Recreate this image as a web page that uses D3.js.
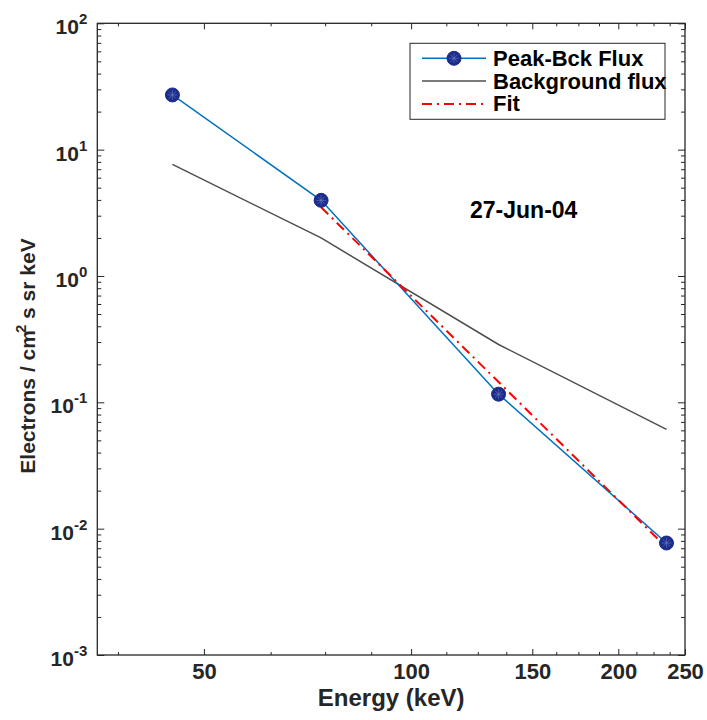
<!DOCTYPE html>
<html>
<head>
<meta charset="utf-8">
<script src="https://cdn.jsdelivr.net/npm/d3@7"></script>
<style>
body { margin: 0; background: #fff; }
text { font-family: "Liberation Sans", Arial, Helvetica, sans-serif; font-weight: bold; }
</style>
</head>
<body>
<div id="divChart"></div>
<script>
// values
var energy = [45, 74, 134, 235];
var peakFlux = [27.1, 3.97, 0.116, 0.0077];
var bckFlux = [7.65, 2.0, 0.287, 0.061];
var fitEnergy = [74, 235];
var fitFlux = [3.5, 0.0071];
var xTickValues = [50, 100, 150, 200, 250];
var xMinorTicks = [37.5, 62.5, 75, 87.5, 112.5, 125, 137.5, 162.5, 175, 187.5, 212.5, 225, 237.5];
var yTickExps = [-3, -2, -1, 0, 1, 2];
var legendLabels = ["Peak-Bck Flux", "Background flux", "Fit"];
var dateLabel = "27-Jun-04";

var margin = {
        top: 23.3,
        right: 22,
        bottom: 65,
        left: 97.3
    },
    width = 707 - margin.left - margin.right,
    height = 720 - margin.top - margin.bottom;

var axisColor = "#262626";

var svg = d3.select("#divChart").append("svg")
    .attr("width", 707)
    .attr("height", 720);

var g = svg.append("g")
    .attr("transform", "translate(" + margin.left + "," + margin.top + ")");

var x = d3.scaleLog().domain([35, 250]).range([0, width]);
var y = d3.scaleLog().domain([1e-3, 1e2]).range([height, 0]);

var yMinorTicks = [];
yTickExps.forEach(function(e) {
    if (e == 2) return;
    for (var k = 2; k < 10; k++) yMinorTicks.push(k * Math.pow(10, e));
});
var yMajorTicks = yTickExps.map(function(e) { return Math.pow(10, e); });

// ticks on all four sides, pointing inwards
var drawAxis = function(axis, transform) {
    var a = g.append("g")
        .attr("transform", transform)
        .call(axis);
    a.select(".domain").remove();
    a.selectAll("line").attr("stroke", axisColor).attr("stroke-width", 1);
    return a;
};

var xAxis = drawAxis(d3.axisBottom(x).tickValues(xTickValues).tickFormat(d3.format("d"))
    .tickSize(-6).tickPadding(8), "translate(0," + height + ")");
xAxis.selectAll("text")
    .attr("fill", axisColor)
    .style("font-size", "22px");
drawAxis(d3.axisBottom(x).tickValues(xMinorTicks).tickFormat("").tickSize(-3), "translate(0," + height + ")");
drawAxis(d3.axisTop(x).tickValues(xTickValues).tickFormat("").tickSize(-6), "translate(0,0)");
drawAxis(d3.axisTop(x).tickValues(xMinorTicks).tickFormat("").tickSize(-3), "translate(0,0)");

drawAxis(d3.axisLeft(y).tickValues(yMajorTicks).tickFormat("").tickSize(-7), "translate(0,0)");
drawAxis(d3.axisLeft(y).tickValues(yMinorTicks).tickFormat("").tickSize(-4), "translate(0,0)");
drawAxis(d3.axisRight(y).tickValues(yMajorTicks).tickFormat("").tickSize(-7), "translate(" + width + ",0)");
drawAxis(d3.axisRight(y).tickValues(yMinorTicks).tickFormat("").tickSize(-4), "translate(" + width + ",0)");

// y tick labels 10^n
var yLab = g.append("g").selectAll("text")
    .data(yTickExps)
    .enter().append("text")
    .attr("x", -10)
    .attr("y", function(d) { return y(Math.pow(10, d)) + 11; })
    .attr("text-anchor", "end")
    .attr("fill", axisColor)
    .style("font-size", "21px");
yLab.append("tspan").text("10");
yLab.append("tspan")
    .attr("dy", -10)
    .style("font-size", "15px")
    .text(function(d) { return d; });

// box
g.append("rect")
    .attr("width", width)
    .attr("height", height)
    .attr("fill", "none")
    .attr("stroke", axisColor)
    .attr("stroke-width", 1.3);

// axis titles
g.append("text")
    .attr("x", width / 2)
    .attr("y", height + 51)
    .attr("text-anchor", "middle")
    .attr("fill", axisColor)
    .style("font-size", "24px")
    .text("Energy (keV)");

var yTitle = svg.append("text")
    .attr("transform", "translate(35,356) rotate(-90)")
    .attr("text-anchor", "middle")
    .attr("fill", axisColor)
    .style("font-size", "21px");
yTitle.append("tspan").text("Electrons / cm");
yTitle.append("tspan").attr("dy", -9).attr("dx", -3).style("font-size", "15px").text("2");
yTitle.append("tspan").attr("dy", 9).text(" s sr keV");

// series
var line = function(xs, ys) {
    return d3.line()
        .x(function(d, i) { return x(xs[i]); })
        .y(function(d, i) { return y(ys[i]); })(xs);
};

g.append("path")
    .attr("d", line(energy, bckFlux))
    .attr("fill", "none")
    .attr("stroke", "#4d4d4d")
    .attr("stroke-width", 1.5);

g.append("path")
    .attr("d", line(energy, peakFlux))
    .attr("fill", "none")
    .attr("stroke", "#0072BD")
    .attr("stroke-width", 1.5);

g.append("path")
    .attr("d", line(fitEnergy, fitFlux))
    .attr("fill", "none")
    .attr("stroke", "#ff0000")
    .attr("stroke-width", 2)
    .attr("stroke-dasharray", "10,5,2,5");

var drawMarker = function(sel, cx, cy) {
    var m = sel.append("g").attr("transform", "translate(" + cx + "," + cy + ")");
    m.append("circle")
        .attr("r", 7)
        .attr("fill", "#1b2b8c")
        .attr("stroke", "#1b2b8c");
    [0, 45, 90, 135].forEach(function(a) {
        m.append("line")
            .attr("x1", -5).attr("x2", 5)
            .attr("transform", "rotate(" + a + ")")
            .attr("stroke", "#6b7cc4")
            .attr("stroke-width", 0.6);
    });
};

energy.forEach(function(e, i) {
    drawMarker(g, x(e), y(peakFlux[i]));
});

// date label
svg.append("text")
    .attr("x", 470)
    .attr("y", 218)
    .attr("fill", "#000")
    .style("font-size", "23px")
    .text(dateLabel);

// legend
var legend = svg.append("g");
legend.append("rect")
    .attr("x", 410)
    .attr("y", 43.3)
    .attr("width", 255)
    .attr("height", 76)
    .attr("fill", "#fff")
    .attr("stroke", axisColor)
    .attr("stroke-width", 1);

var legendStyles = [
    {color: "#0072BD", width: 1.5, dash: null},
    {color: "#4d4d4d", width: 1.5, dash: null},
    {color: "#ff0000", width: 2, dash: "10,5,2,5"}
];

legendLabels.forEach(function(label, i) {
    var ly = 58.3 + i * 22.8;
    legend.append("line")
        .attr("x1", 422).attr("x2", 486)
        .attr("y1", ly).attr("y2", ly)
        .attr("stroke", legendStyles[i].color)
        .attr("stroke-width", legendStyles[i].width)
        .attr("stroke-dasharray", legendStyles[i].dash);
    if (i == 0) drawMarker(legend, 454, ly);
    legend.append("text")
        .attr("x", 493)
        .attr("y", ly + 7.5)
        .attr("fill", "#000")
        .style("font-size", "22px")
        .text(label);
});
</script>
</body>
</html>
